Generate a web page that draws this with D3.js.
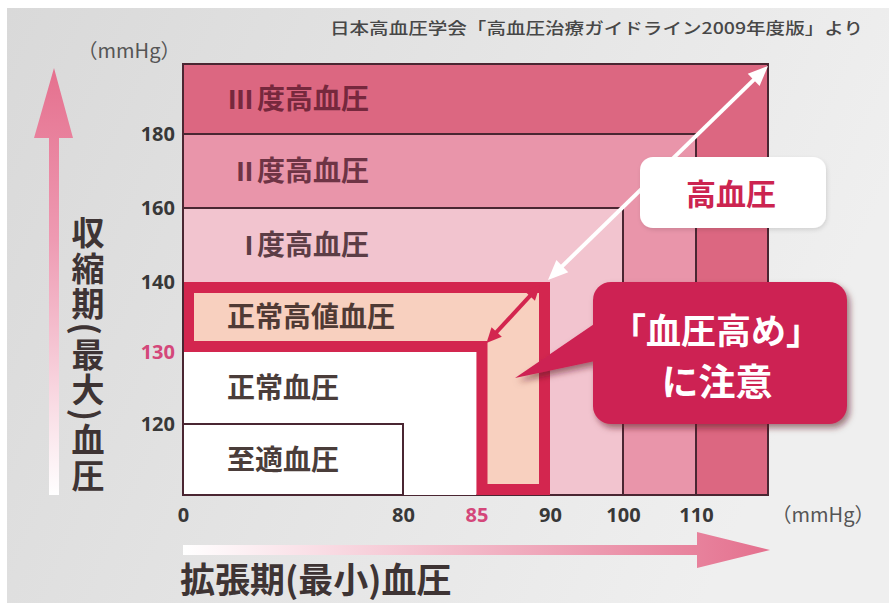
<!DOCTYPE html>
<html>
<head>
<meta charset="utf-8">
<script src="https://cdn.jsdelivr.net/npm/d3@7"></script>
<style>
  body { margin: 0; background: #fff; }
  svg { display: block; }
</style>
</head>
<body>
<svg id="chart"></svg>
<script>
// blood pressure classes (JSH 2009), upper limits of each class
const categories = ["至適血圧", "正常血圧", "正常高値血圧", "度高血圧", "度高血圧", "度高血圧"];
const romanLabels = ["", "", "", "I", "II", "III"];
const sbpUpper = [120, 130, 140, 160, 180, 200];
const dbpUpper = [80, 85, 90, 100, 110, 120];
const sbpLower = [0, 120, 130, 140, 160, 180];

const xTicks = [0, 80, 85, 90, 100, 110];
const yTicks = [120, 130, 140, 160, 180];
const pinkTicks = [85, 130];

const source = "日本高血圧学会「高血圧治療ガイドライン2009年度版」より";
const yTitle = "収縮期(最大)血圧";
const xTitle = "拡張期(最小)血圧";

const W = 889, H = 603;
const jp = "'Noto Sans CJK JP', 'Noto Sans', sans-serif";
const num = "'Open Sans', 'Noto Sans', sans-serif";

const fills = ["#ffffff", "#ffffff", "#f8d0bf", "#f2c4cf", "#e995aa", "#dc6781"];
const crimson = "#d3264f";
const darkLine = "#4a2632";
const textColors = ["#4a3d3a", "#4a3d3a", "#4f3a35", "#5c3d46", "#6e3445", "#76283d"];

// the original figure stretches the scale between breakpoints
const x = d3.scaleLinear()
  .domain([0, 80, 90, 100, 110, 120])
  .range([183, 403, 550, 623, 696, 768]);
const y = d3.scaleLinear()
  .domain([0, 120, 130, 140, 160, 180, 200])
  .range([495, 424, 352, 282, 208, 134, 64]);

const svg = d3.select("#chart").attr("width", W).attr("height", H);
const defs = svg.append("defs");

const bg = defs.append("linearGradient").attr("id", "bg")
  .attr("x1", 0).attr("y1", 0).attr("x2", 1).attr("y2", 0.3);
bg.append("stop").attr("offset", 0).attr("stop-color", "#d9d9d9");
bg.append("stop").attr("offset", 1).attr("stop-color", "#efefef");

const ya = defs.append("linearGradient").attr("id", "yArrow")
  .attr("x1", 0).attr("y1", 1).attr("x2", 0).attr("y2", 0);
ya.append("stop").attr("offset", 0).attr("stop-color", "#ffffff");
ya.append("stop").attr("offset", 0.6).attr("stop-color", "#ee9ab2");
ya.append("stop").attr("offset", 1).attr("stop-color", "#e5708e");

const xa = defs.append("linearGradient").attr("id", "xArrow")
  .attr("x1", 0).attr("y1", 0).attr("x2", 1).attr("y2", 0);
xa.append("stop").attr("offset", 0).attr("stop-color", "#ffffff");
xa.append("stop").attr("offset", 0.5).attr("stop-color", "#f2b6c6");
xa.append("stop").attr("offset", 1).attr("stop-color", "#e4708e");

const shadow = defs.append("filter").attr("id", "shadow")
  .attr("x", "-10%").attr("y", "-10%").attr("width", "130%").attr("height", "140%");
shadow.append("feDropShadow").attr("dx", 3).attr("dy", 4).attr("stdDeviation", 3)
  .attr("flood-color", "#5a0e20").attr("flood-opacity", 0.55);

const softShadow = defs.append("filter").attr("id", "softShadow")
  .attr("x", "-10%").attr("y", "-10%").attr("width", "130%").attr("height", "140%");
softShadow.append("feDropShadow").attr("dx", 1).attr("dy", 2).attr("stdDeviation", 2)
  .attr("flood-color", "#000").attr("flood-opacity", 0.12);

// background
svg.append("rect").attr("x", 7).attr("y", 8).attr("width", W - 7).attr("height", H - 8)
  .attr("fill", "url(#bg)");

// source note
svg.append("text")
  .attr("x", 330).attr("y", 34)
  .attr("textLength", 533).attr("lengthAdjust", "spacingAndGlyphs")
  .attr("font-family", jp).attr("font-size", 16).attr("font-weight", 500)
  .attr("fill", "#474747")
  .text(source);

// classification regions, biggest first
const order = [5, 4, 3];
svg.append("g").selectAll("rect")
  .data(order)
  .join("rect")
  .attr("x", x(0))
  .attr("y", (i) => y(sbpUpper[i]))
  .attr("width", (i) => x(dbpUpper[i]) - x(0))
  .attr("height", (i) => y(0) - y(sbpUpper[i]))
  .attr("fill", (i) => fills[i])
  .attr("stroke", darkLine)
  .attr("stroke-width", 2);

// normal (white)
svg.append("rect")
  .attr("x", x(0)).attr("y", y(sbpUpper[1]))
  .attr("width", x(dbpUpper[1]) - x(0))
  .attr("height", y(0) - y(sbpUpper[1]))
  .attr("fill", fills[1]);

// high-normal L shape with thick crimson border
const b = 11;
const outerL = [
  [x(0), y(sbpUpper[2])], [x(dbpUpper[2]), y(sbpUpper[2])], [x(dbpUpper[2]), y(0)],
  [x(dbpUpper[1]), y(0)], [x(dbpUpper[1]), y(sbpUpper[1])], [x(0), y(sbpUpper[1])]
];
const innerL = [
  [x(0) + b, y(sbpUpper[2]) + b], [x(dbpUpper[2]) - b, y(sbpUpper[2]) + b],
  [x(dbpUpper[2]) - b, y(0) - b], [x(dbpUpper[1]) + b, y(0) - b],
  [x(dbpUpper[1]) + b, y(sbpUpper[1]) - b], [x(0) + b, y(sbpUpper[1]) - b]
];
svg.append("polygon").attr("points", outerL.join(" ")).attr("fill", crimson);
svg.append("polygon").attr("points", innerL.join(" ")).attr("fill", fills[2]);

// optimal
svg.append("rect")
  .attr("x", x(0)).attr("y", y(sbpUpper[0]))
  .attr("width", x(dbpUpper[0]) - x(0))
  .attr("height", y(0) - y(sbpUpper[0]))
  .attr("fill", fills[0])
  .attr("stroke", darkLine).attr("stroke-width", 2);

// axis base line
svg.append("line").attr("x1", x(0)).attr("x2", x(0)).attr("y1", y(200)).attr("y2", y(0))
  .attr("stroke", darkLine).attr("stroke-width", 2);

// region labels
const labelIdx = [0, 1, 2, 3, 4, 5];
const labels = svg.append("g");
labels.selectAll("text.cat")
  .data(labelIdx)
  .join("text")
  .attr("class", "cat")
  .attr("x", (i) => (i >= 3 ? 257 : 227))
  .attr("y", (i) => (y(sbpLower[i]) + y(sbpUpper[i])) / 2)
  .attr("dy", "0.36em")
  .attr("font-family", jp).attr("font-weight", 700).attr("font-size", 28)
  .attr("fill", (i) => textColors[i])
  .text((i) => categories[i]);
labels.selectAll("text.roman")
  .data(labelIdx.filter((i) => romanLabels[i]))
  .join("text")
  .attr("class", "roman")
  .attr("x", 253)
  .attr("y", (i) => (y(sbpLower[i]) + y(sbpUpper[i])) / 2)
  .attr("dy", "0.36em")
  .attr("text-anchor", "end")
  .attr("letter-spacing", -0.5)
  .attr("font-family", num).attr("font-weight", 700).attr("font-size", 27)
  .attr("fill", (i) => textColors[i])
  .text((i) => romanLabels[i]);

// axes
const yAxis = svg.append("g")
  .attr("transform", `translate(${x(0)},0)`)
  .call(d3.axisLeft(y).tickValues(yTicks).tickSize(0).tickPadding(8));
const xAxis = svg.append("g")
  .attr("transform", `translate(0,${y(0)})`)
  .call(d3.axisBottom(x).tickValues(xTicks).tickSize(0).tickPadding(13));
[xAxis, yAxis].forEach((a) => {
  a.select(".domain").remove();
  a.selectAll("text")
    .attr("font-family", num).attr("font-weight", 700).attr("font-size", 20)
    .attr("fill", (d) => (pinkTicks.includes(d) ? "#d4477a" : "#383838"));
});

// units
svg.append("text").attr("x", 129).attr("y", 51).attr("dy", "0.35em")
  .attr("text-anchor", "middle")
  .attr("font-family", jp).attr("font-size", 20).attr("fill", "#555")
  .text("（mmHg）");
svg.append("text").attr("x", 823).attr("y", 515).attr("dy", "0.35em")
  .attr("text-anchor", "middle")
  .attr("font-family", jp).attr("font-size", 20).attr("fill", "#555")
  .text("（mmHg）");

// y arrow
svg.append("path")
  .attr("d", "M49,495 L49,138 L34,138 L54,68 L73,138 L59,138 L59,495 Z")
  .attr("fill", "url(#yArrow)");
// x arrow
svg.append("path")
  .attr("d", "M183,545 L697,545 L697,532 L770,550 L697,568 L697,555 L183,555 Z")
  .attr("fill", "url(#xArrow)");

// y title, set vertically
svg.append("text")
  .attr("x", 88).attr("y", 216)
  .style("writing-mode", "vertical-rl")
  .attr("letter-spacing", 2.5)
  .attr("font-family", jp).attr("font-weight", 700).attr("font-size", 33)
  .attr("fill", "#3e3434")
  .text(yTitle);

// x title
svg.append("text").attr("x", 180).attr("y", 593)
  .attr("font-family", jp).attr("font-weight", 700).attr("font-size", 35)
  .attr("fill", "#3e3434")
  .text(xTitle);

// double arrows
function doubleArrow(x1, y1, x2, y2, color, w, hl, hw) {
  const g = svg.append("g");
  const dx = x2 - x1, dy = y2 - y1, len = Math.hypot(dx, dy);
  const ux = dx / len, uy = dy / len, px = -uy, py = ux;
  g.append("line")
    .attr("x1", x1 + ux * hl * 0.8).attr("y1", y1 + uy * hl * 0.8)
    .attr("x2", x2 - ux * hl * 0.8).attr("y2", y2 - uy * hl * 0.8)
    .attr("stroke", color).attr("stroke-width", w);
  const head = (tx, ty, sx, sy) => [
    [tx, ty],
    [tx + sx * hl + px * hw / 2, ty + sy * hl + py * hw / 2],
    [tx + sx * hl - px * hw / 2, ty + sy * hl - py * hw / 2]
  ];
  g.append("polygon").attr("points", head(x1, y1, ux, uy).join(" ")).attr("fill", color);
  g.append("polygon").attr("points", head(x2, y2, -ux, -uy).join(" ")).attr("fill", color);
}
doubleArrow(x(90) - 2, y(140) - 2, x(120), y(200) + 2, "#ffffff", 4, 20, 17);
doubleArrow(x(85) + 10, y(130) - 9, x(90) - 10, y(140) + 3, crimson, 4, 15, 14);

// "高血圧" callout
svg.append("rect")
  .attr("x", 640).attr("y", 157).attr("width", 186).attr("height", 71).attr("rx", 13)
  .attr("fill", "#ffffff").attr("filter", "url(#softShadow)");
svg.append("text").attr("x", 731).attr("y", 194).attr("dy", "0.36em")
  .attr("text-anchor", "middle")
  .attr("font-family", jp).attr("font-weight", 700).attr("font-size", 30)
  .attr("fill", "#cc2450")
  .text("高血圧");

// "血圧高め" callout
const callout = svg.append("g").attr("filter", "url(#shadow)");
callout.append("rect")
  .attr("x", 593).attr("y", 282).attr("width", 254).attr("height", 142).attr("rx", 18)
  .attr("fill", "#cd2452");
callout.append("polygon")
  .attr("points", "600,320 515,378 600,360")
  .attr("fill", "#cd2452");
svg.append("text").attr("x", 716).attr("y", 331).attr("dy", "0.36em")
  .attr("text-anchor", "middle")
  .attr("font-family", jp).attr("font-weight", 700).attr("font-size", 35)
  .attr("fill", "#ffffff")
  .text("「血圧高め」");
svg.append("text").attr("x", 717).attr("y", 383).attr("dy", "0.36em")
  .attr("text-anchor", "middle")
  .attr("font-family", jp).attr("font-weight", 700).attr("font-size", 37)
  .attr("fill", "#ffffff")
  .text("に注意");
</script>
</body>
</html>
